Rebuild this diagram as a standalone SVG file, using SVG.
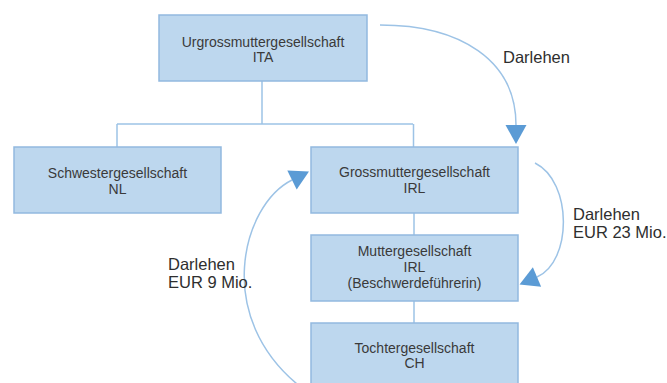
<svg xmlns="http://www.w3.org/2000/svg" width="667" height="383" viewBox="0 0 667 383">
<style>
.box{fill:#bdd7ee;stroke:#92b9df;stroke-width:1.5}
.t{font-family:"Liberation Sans",Arial,sans-serif;font-size:14px;fill:#3a3a3a;text-anchor:middle}
.l{font-family:"Liberation Sans",Arial,sans-serif;font-size:16.5px;fill:#2e2e2e}
.c{fill:none;stroke:#9dc3e6;stroke-width:1.5}
</style>
<defs>
<marker id="ah" markerUnits="userSpaceOnUse" markerWidth="22" markerHeight="22" viewBox="0 -11 20 22" refX="0" refY="0" orient="auto">
<path d="M0,-10.5 L19,0 L0,10.5 Z" fill="#5b9bd5"/>
</marker>
</defs>
<rect width="667" height="383" fill="#ffffff"/>
<g id="connectors">
<path class="c" d="M262,81 V124 M117,124 H413 M117,124 V147 M413.5,124 V147"/>
<path class="c" d="M414,213 V235 M414,301 V323"/>
<path class="c" d="M380,25 C460,25 516,60 516,125" marker-end="url(#ah)"/>
<path class="c" d="M535,163 C573,182 572,262 537,277" marker-end="url(#ah)"/>
<path class="c" d="M302,388 C212,318 242,205 292,180" marker-end="url(#ah)"/>
</g>
<g id="n-urgross">
<rect class="box" x="159" y="15" width="208" height="66"/>
<text class="t" x="263" y="47">Urgrossmuttergesellschaft</text>
<text class="t" x="263" y="62">ITA</text>
</g>
<g id="n-schwester">
<rect class="box" x="14" y="147" width="207" height="66"/>
<text class="t" x="117.5" y="178">Schwestergesellschaft</text>
<text class="t" x="117.5" y="194">NL</text>
</g>
<g id="n-gross">
<rect class="box" x="311" y="147" width="207" height="66"/>
<text class="t" x="414.5" y="177">Grossmuttergesellschaft</text>
<text class="t" x="414.5" y="193">IRL</text>
</g>
<g id="n-mutter">
<rect class="box" x="311" y="235" width="207" height="66"/>
<text class="t" x="414.5" y="256">Muttergesellschaft</text>
<text class="t" x="414.5" y="272">IRL</text>
<text class="t" x="414.5" y="288">(Beschwerdeführerin)</text>
</g>
<g id="n-tochter">
<rect class="box" x="311" y="323" width="207" height="70"/>
<text class="t" x="414.5" y="353">Tochtergesellschaft</text>
<text class="t" x="414.5" y="368">CH</text>
</g>
<g id="labels">
<text class="l" x="503" y="63">Darlehen</text>
<text class="l" x="573" y="220">Darlehen</text>
<text class="l" x="573" y="238">EUR 23 Mio.</text>
<text class="l" x="168" y="270">Darlehen</text>
<text class="l" x="168" y="288">EUR 9 Mio.</text>
</g>
</svg>
